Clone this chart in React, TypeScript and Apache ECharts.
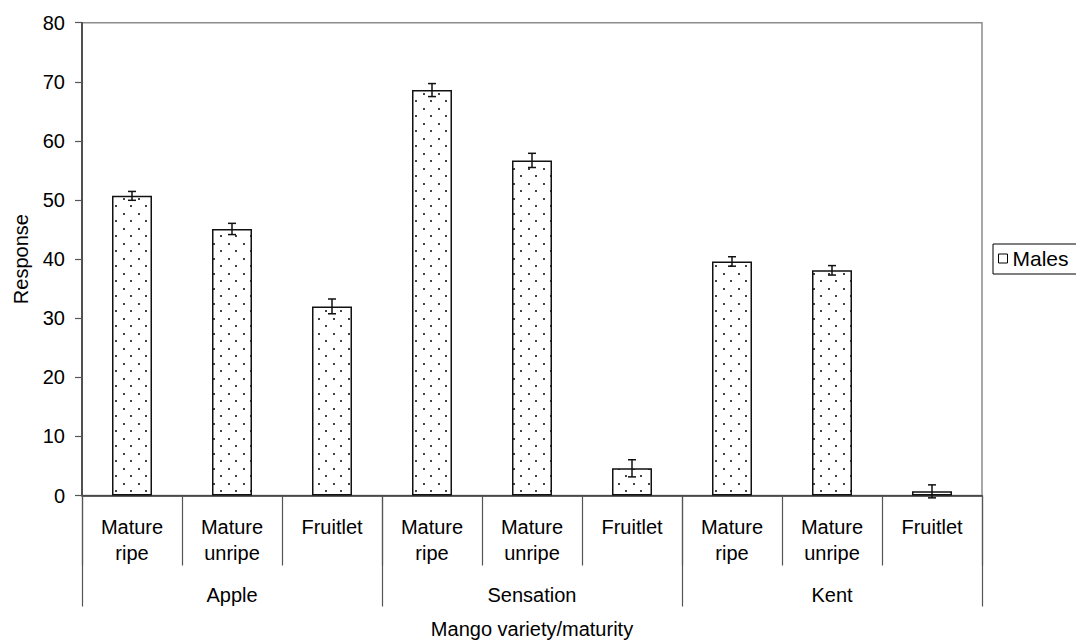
import React, { useEffect, useRef } from "react";
import * as echarts from "echarts";

const categories = [
  "Mature\nripe", "Mature\nunripe", "Fruitlet",
  "Mature\nripe", "Mature\nunripe", "Fruitlet",
  "Mature\nripe", "Mature\nunripe", "Fruitlet",
];
const groups = ["Apple", "Sensation", "Kent"];
const males = [50.7, 45.1, 32.0, 68.6, 56.7, 4.6, 39.6, 38.1, 0.7];
const errors = [0.75, 0.95, 1.25, 1.1, 1.2, 1.45, 0.8, 0.8, 1.1];

const FONT = "'Liberation Sans', Arial, Helvetica, sans-serif";

function makeDots(): HTMLCanvasElement {
  const c = document.createElement("canvas");
  c.width = 15;
  c.height = 15;
  const ctx = c.getContext("2d")!;
  ctx.fillStyle = "#fff";
  ctx.fillRect(0, 0, 15, 15);
  ctx.fillStyle = "#444";
  ctx.fillRect(3, 3, 2, 2);
  ctx.fillRect(10, 10, 2, 2);
  return c;
}

export default function App() {
  const ref = useRef<HTMLDivElement>(null);
  useEffect(() => {
    if (!ref.current) return;
    const chart = echarts.init(ref.current, null, { renderer: "svg" });
    const errData = males.map((v, i) => [i, v - errors[i], v + errors[i]]);
    const dots = makeDots();
    chart.setOption({
      animation: false,
      backgroundColor: "#fff",
      textStyle: { fontFamily: FONT, color: "#000" },
      grid: {
        left: 82,
        top: 22.7,
        right: 94,
        bottom: 145.5,
        containLabel: false,
        outerBoundsMode: "none",
        show: true,
        borderColor: "#8c8c8c",
        borderWidth: 1.5,
        backgroundColor: "transparent",
      },
      legend: {
        left: 993,
        top: 244,
        orient: "vertical",
        selectedMode: false,
        borderColor: "#000",
        borderWidth: 1,
        padding: [4, 40, 5, 5],
        itemWidth: 9,
        itemHeight: 9,
        itemGap: 5,
        textStyle: { fontFamily: FONT, fontSize: 21, color: "#000" },
        data: [
          {
            name: "Males",
            icon: "rect",
            itemStyle: { color: "#fff", borderColor: "#000", borderWidth: 1 },
          },
        ],
      },
      xAxis: [
        {
          type: "category",
          data: categories,
          position: "bottom",
          axisLine: { show: true, lineStyle: { color: "#333", width: 1.5 } },
          axisTick: { show: true, length: 70, alignWithLabel: false, lineStyle: { color: "#555", width: 1.2 } },
          axisLabel: {
            interval: 0,
            margin: 18,
            fontSize: 20,
            lineHeight: 26,
            color: "#000",
            fontFamily: FONT,
            verticalAlign: "top",
          },
          splitLine: { show: false },
        },
        {
          type: "category",
          data: groups,
          position: "bottom",
          gridIndex: 0,
          axisLine: { show: false },
          axisTick: { show: true, length: 111, alignWithLabel: false, lineStyle: { color: "#555", width: 1.2 } },
          axisLabel: {
            interval: 0,
            margin: 86.5,
            fontSize: 20,
            lineHeight: 26,
            color: "#000",
            fontFamily: FONT,
            verticalAlign: "top",
          },
          splitLine: { show: false },
          name: "Mango variety/maturity",
          nameLocation: "middle",
          nameGap: 123,
          nameTextStyle: { fontSize: 20, color: "#000", fontFamily: FONT, verticalAlign: "top" },
        },
      ],
      yAxis: {
        type: "value",
        min: 0,
        max: 80,
        interval: 10,
        name: "Response",
        nameLocation: "middle",
        nameGap: 51,
        nameTextStyle: { fontSize: 20, color: "#000", fontFamily: FONT },
        axisLine: { show: true, lineStyle: { color: "#333", width: 1.5 } },
        axisTick: { show: true, length: 7, lineStyle: { color: "#555", width: 1.2 } },
        axisLabel: { fontSize: 20, color: "#000", margin: 17, fontFamily: FONT },
        splitLine: { show: false },
      },
      series: [
        {
          name: "Males",
          type: "bar",
          xAxisIndex: 0,
          data: males,
          barWidth: 40,
          itemStyle: {
            color: { image: dots, repeat: "repeat" },
            borderColor: "#111",
            borderWidth: 1.5,
          },
        },
        {
          name: "err",
          type: "custom",
          xAxisIndex: 0,
          yAxisIndex: 0,
          data: errData,
          z: 10,
          renderItem: (params: any, api: any) => {
            const x = api.value(0);
            const lo = api.coord([x, api.value(1)]);
            const hi = api.coord([x, api.value(2)]);
            const hw = 4;
            const st = { stroke: "#111", lineWidth: 1.5 };
            return {
              type: "group",
              children: [
                { type: "line", shape: { x1: lo[0], y1: lo[1], x2: hi[0], y2: hi[1] }, style: st },
                { type: "line", shape: { x1: lo[0] - hw, y1: lo[1], x2: lo[0] + hw, y2: lo[1] }, style: st },
                { type: "line", shape: { x1: hi[0] - hw, y1: hi[1], x2: hi[0] + hw, y2: hi[1] }, style: st },
              ],
            };
          },
        },
      ],
    });
    return () => chart.dispose();
  }, []);
  return <div ref={ref} style={{ width: 1076, height: 641, position: "absolute", left: 0, top: 0 }} />;
}
